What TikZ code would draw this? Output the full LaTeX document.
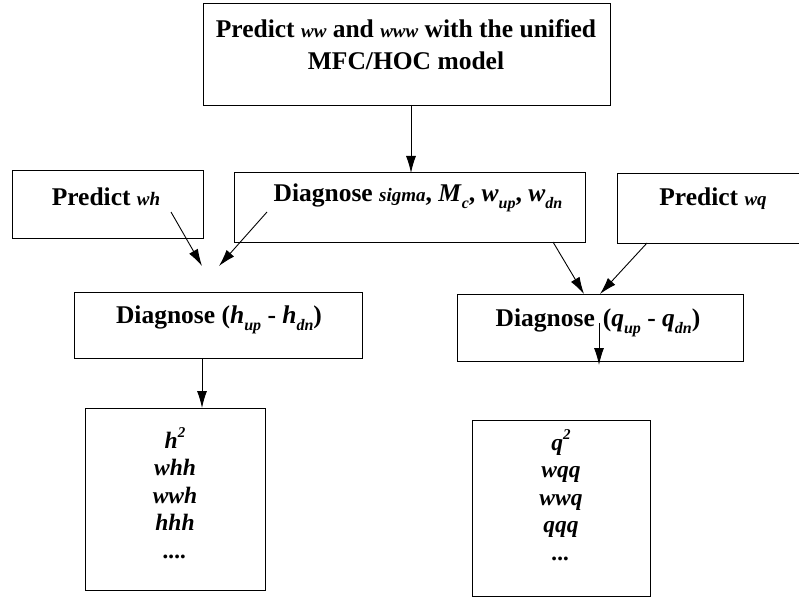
\documentclass[tikz,border=0pt]{standalone}
\usepackage{fontspec}
\setmainfont{Liberation Serif}
\usetikzlibrary{arrows.meta}
\newcommand\vi[1]{{\itshape\fontsize{19}{21}\selectfont #1}}
\newcommand\vsub[1]{\raisebox{-0.28em}{\itshape\fontsize{16}{17}\selectfont #1}}
\newcommand\vsup[1]{\raisebox{0.45em}{\itshape\fontsize{15}{16}\selectfont #1}}
\begin{document}
\begin{tikzpicture}[x=1pt,y=-1pt,
  box/.style={draw,line width=1.3pt,inner sep=0pt,anchor=north west},
  lbl/.style={font=\bfseries\fontsize{25.5}{32}\selectfont,inner sep=0pt,align=center},
  itm/.style={font=\bfseries\itshape\fontsize{23.5}{27.5}\selectfont,inner sep=0pt,align=center},
  arr/.style={-{Latex[length=17pt,width=10pt]},line width=0.9pt}]
\useasboundingbox (0,0) rectangle (799,604);
% boxes
\node[box,minimum width=407pt,minimum height=102pt] (top) at (203,3) {};
\node[box,minimum width=191pt,minimum height=68pt] (pwh) at (12,170) {};
\node[box,minimum width=351pt,minimum height=70pt] (dsig) at (234,172) {};
\node[box,minimum width=190pt,minimum height=70pt] (pwq) at (617,173) {};
\node[box,minimum width=288pt,minimum height=66pt] (dh) at (74,292) {};
\node[box,minimum width=286pt,minimum height=67pt] (dq) at (457,294) {};
\node[box,minimum width=180pt,minimum height=182pt] (bh) at (85,408) {};
\node[box,minimum width=178pt,minimum height=176pt] (bq) at (472,420) {};
% texts
\node[lbl] (ttop) at (406,45) {Predict \vi{ww} and \vi{www} with the unified\\MFC/HOC model};
\node[lbl] (twh) at (106,197) {Predict \vi{wh}};
\node[lbl] (tsig) at (418,198) {Diagnose \vi{sigma}, \textit{M}\vsub{c}, \textit{w}\vsub{up}, \textit{w}\vsub{dn}};
\node[lbl] (twq) at (713,199) {Predict \vi{wq}};
\node[lbl] (th) at (219,320) {Diagnose (\textit{h}\vsub{up} - \textit{h}\vsub{dn})};
\node[lbl] (tq) at (598,323) {Diagnose\hspace{8pt}(\textit{q}\vsub{up} - \textit{q}\vsub{dn})};
\node[itm] (th2) at (175,493) {\textit{h}\vsup{2}\\whh\\wwh\\hhh\\....};
\node[itm] (tq2) at (561,495) {\textit{q}\vsup{2}\\wqq\\wwq\\qqq\\...};
% connector end points
\coordinate (a1s) at (411,105);
\coordinate (a1e) at (411,173);
\coordinate (a2s) at (171,212);
\coordinate (a2e) at (202,266);
\coordinate (a3s) at (267,212);
\coordinate (a3e) at (219,266);
\coordinate (a4s) at (553,242);
\coordinate (a4e) at (584,294);
\coordinate (a5s) at (647,243);
\coordinate (a5e) at (600,294);
\coordinate (a6s) at (202,358);
\coordinate (a6e) at (202,408);
\coordinate (a7s) at (599,323);
\coordinate (a7e) at (599,365);
\draw[arr] (a1s) -- (a1e);
\draw[arr] (a2s) -- (a2e);
\draw[arr] (a3s) -- (a3e);
\draw[arr] (a4s) -- (a4e);
\draw[arr] (a5s) -- (a5e);
\draw[arr] (a6s) -- (a6e);
\draw[arr] (a7s) -- (a7e);
\end{tikzpicture}
\end{document}
